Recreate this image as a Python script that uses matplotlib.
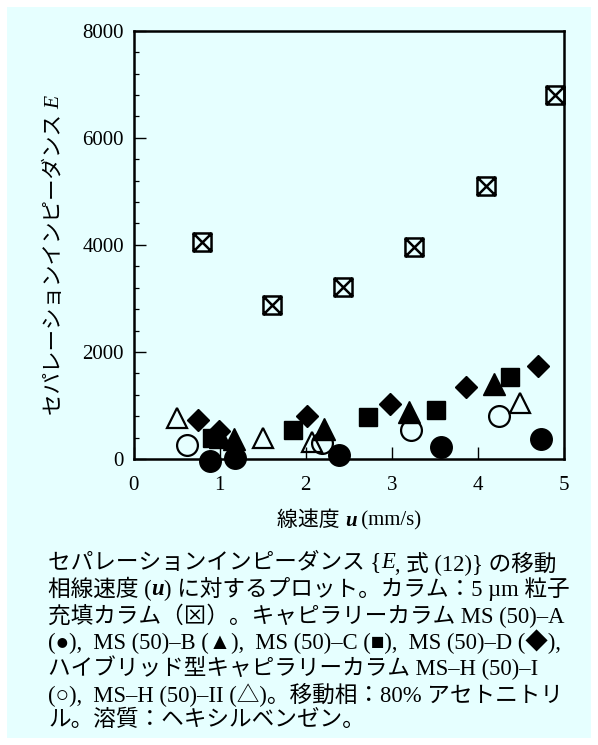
import matplotlib
matplotlib.use("Agg")
import matplotlib.pyplot as plt
from matplotlib.path import Path
from matplotlib.patches import Rectangle
from matplotlib.ticker import MultipleLocator

# --- data (u in mm/s, E) ---
packed_u = [0.80, 1.61, 2.43, 3.26, 4.09, 4.89]
packed_E = [4050, 2880, 3210, 3960, 5100, 6800]

msA_u = [0.89, 1.18, 2.39, 3.57, 4.73]
msA_E = [-40, 15, 70, 220, 380]

msB_u = [1.00, 1.17, 2.21, 3.20, 4.19]
msB_E = [420, 370, 560, 870, 1400]

msC_u = [0.91, 1.85, 2.72, 3.51, 4.37]
msC_E = [390, 540, 790, 915, 1525]

msD_u = [0.75, 0.99, 2.02, 2.98, 3.86, 4.70]
msD_E = [730, 525, 805, 1030, 1340, 1735]

hI_u = [0.62, 2.19, 3.22, 4.25]
hI_E = [265, 300, 540, 800]

hII_u = [0.51, 1.50, 2.07, 4.49]
hII_E = [760, 385, 325, 1055]

x_ticks = [0, 1, 2, 3, 4, 5]
y_ticks = [0, 2000, 4000, 6000, 8000]

caption = [
    [("セパレーションインピーダンス {", {}), ("E", {"style": "italic"}),
     (", 式 (12)} の移動", {})],
    [("相線速度 (", {}), ("u", {"style": "italic", "weight": "bold"}),
     (") に対するプロット。カラム：5 µm 粒子", {})],
    [("充填カラム（⊠）。キャピラリーカラム MS (50)–A", {})],
    [("(●),  MS (50)–B (▲),  MS (50)–C (■),  MS (50)–D (◆),", {})],
    [("ハイブリッド型キャピラリーカラム MS–H (50)–I", {})],
    [("(○),  MS–H (50)–II (△)。移動相：80% アセトニトリ", {})],
    [("ル。溶質：ヘキシルベンゼン。", {})],
]

FAM = ["Liberation Serif", "Noto Sans CJK JP", "DejaVu Sans"]
plt.rcParams["font.family"] = FAM
BG = "#e6ffff"
W, H = 598, 745

fig = plt.figure(figsize=(W / 100, H / 100), dpi=100, facecolor="white")
fig.patches.append(Rectangle((7 / W, 7 / H), 584 / W, 731 / H,
                             transform=fig.transFigure, facecolor=BG,
                             edgecolor="none", zorder=-10))
ax = fig.add_axes([133.5 / W, 1 - 459 / H, 430.5 / W, 428.3 / H])
ax.set_facecolor("none")

# packed column marker: box with a cross
box_x = Path([(-1, -1), (1, -1), (1, 1), (-1, 1), (-1, -1),
              (-1, -1), (1, 1), (-1, 1), (1, -1)],
             [Path.MOVETO, Path.LINETO, Path.LINETO, Path.LINETO, Path.CLOSEPOLY,
              Path.MOVETO, Path.LINETO, Path.MOVETO, Path.LINETO])

kw = dict(linestyle="none", clip_on=False, color="black")
ax.plot(packed_u, packed_E, marker=box_x, markersize=13, mfc="none",
        mew=1.8, **kw)
ax.plot(hI_u, hI_E, marker="o", markersize=15, mfc="none", mew=1.6, **kw)
ax.plot(hII_u, hII_E, marker="^", markersize=14.5, mfc="none", mew=1.6, **kw)
ax.plot(msA_u, msA_E, marker="o", markersize=15.5, **kw)
ax.plot(msC_u, msC_E, marker="s", markersize=13.5, **kw)
ax.plot(msD_u, msD_E, marker="D", markersize=11, **kw)
ax.plot(msB_u, msB_E, marker="^", markersize=16, **kw)

ax.set_xlim(0, 5)
ax.set_ylim(0, 8000)
ax.set_xticks(x_ticks)
ax.set_yticks(y_ticks)
ax.yaxis.set_minor_locator(MultipleLocator(400))
for s in ax.spines.values():
    s.set_linewidth(1.8)
ax.tick_params(which="major", direction="in", length=8.5, width=1.0,
               labelsize=15)
ax.tick_params(which="minor", direction="in", length=3.5, width=0.9)
ax.tick_params(axis="y", pad=7)
ax.tick_params(axis="x", pad=12)

fig.canvas.draw()
rend = fig.canvas.get_renderer()


def put_line(x, y, parts, size, rotation=0):
    """Write text pieces one after another, starting at pixel (x, y)."""
    for txt, style in parts:
        t = fig.text(x / W, y / H, txt, fontsize=size, rotation=rotation,
                     ha="left" if rotation == 0 else "center",
                     va="center" if rotation == 0 else "bottom",
                     family=FAM, **style)
        bb = t.get_window_extent(rend)
        if rotation == 0:
            x += bb.width
        else:
            y += bb.height


# axis titles
put_line(55, H - 415, [("セパレーションインピーダンス ", {}),
                       ("E", {"style": "italic"})], 15.5, rotation=90)
put_line(277, H - 521, [("線速度 ", {}),
                        ("u", {"style": "italic", "weight": "bold"}),
                        (" (mm/s)", {})], 15)

# caption
for i, parts in enumerate(caption):
    put_line(48, H - (563 + i * 26.2), parts, 16.3)

plt.savefig("out.png", dpi=100, facecolor="white")
